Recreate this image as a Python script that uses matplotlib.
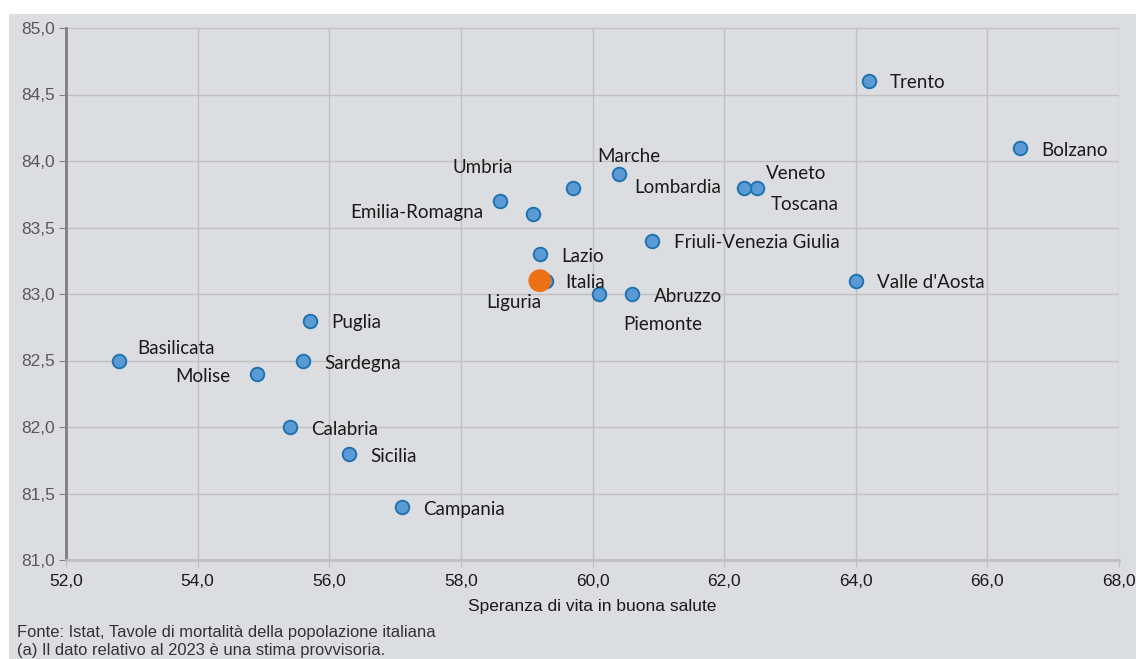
import matplotlib
matplotlib.use("Agg")
import matplotlib.pyplot as plt
from matplotlib.patches import Rectangle
from matplotlib.ticker import FuncFormatter

plt.rcParams["font.family"] = ["Liberation Sans", "DejaVu Sans"]

# ---------------------------------------------------------------- data
regioni = ["Trento", "Bolzano", "Veneto", "Toscana", "Marche", "Lombardia",
           "Umbria", "Emilia-Romagna", "Lazio", "Liguria", "Piemonte",
           "Abruzzo", "Friuli-Venezia Giulia", "Valle d'Aosta", "Puglia",
           "Basilicata", "Sardegna", "Molise", "Calabria", "Sicilia", "Campania"]
salute = [64.2, 66.5, 62.5, 62.3, 60.4, 59.7, 58.6, 59.1, 59.2, 59.3, 60.1,
          60.6, 60.9, 64.0, 55.7, 52.8, 55.6, 54.9, 55.4, 56.3, 57.1]
vita = [84.6, 84.1, 83.8, 83.8, 83.9, 83.8, 83.7, 83.6, 83.3, 83.1, 83.0,
        83.0, 83.4, 83.1, 82.8, 82.5, 82.5, 82.4, 82.0, 81.8, 81.4]
italia_x, italia_y = 59.2, 83.1

# label offsets in pixels (dx, dy, ha)
offsets = {
    "Trento": (21, 0, "left"), "Bolzano": (21, -1, "left"),
    "Veneto": (9, 16, "left"), "Toscana": (27, -15, "left"),
    "Marche": (10, 19, "center"), "Lombardia": (61, 2, "left"),
    "Umbria": (-18, 35, "center"), "Emilia-Romagna": (-50, 3, "right"),
    "Lazio": (21, -1, "left"), "Liguria": (-33, -20, "center"),
    "Piemonte": (64, -29, "center"), "Abruzzo": (22, -1, "left"),
    "Friuli-Venezia Giulia": (22, 0, "left"), "Valle d'Aosta": (21, 0, "left"),
    "Puglia": (22, 0, "left"), "Basilicata": (19, 13, "left"),
    "Sardegna": (21, -1, "left"), "Molise": (-26, -1, "right"),
    "Calabria": (21, -1, "left"), "Sicilia": (21, -1, "left"),
    "Campania": (21, -1, "left"),
}

bg = "#dcdde0"
fig = plt.figure(figsize=(11.36, 6.59), dpi=100)
fig.patches.append(Rectangle((9 / 1136, 0), 1, 1 - 14 / 659, transform=fig.transFigure,
                             facecolor=bg, edgecolor="none", zorder=-10))
ax = fig.add_axes([66 / 1136, 1 - 560 / 659, (1119 - 66) / 1136, (560 - 28) / 659])
ax.set_facecolor(bg)

ax.scatter(salute, vita, s=95, color="#5b9bd5", edgecolor="#1f72b0", linewidth=1.4, zorder=3)
ax.scatter([italia_x], [italia_y], s=270, color="#ed7014", edgecolor="none", zorder=4)

lab_font = ["Lato", "DejaVu Sans"]
for r, x, y in zip(regioni, salute, vita):
    dx, dy, ha = offsets[r]
    ax.annotate(r, (x, y), xytext=(dx, dy), textcoords="offset pixels",
                ha=ha, va="center_baseline", fontsize=13.5, family=lab_font, color="#1a1a1a", zorder=5)
ax.annotate("Italia", (italia_x, italia_y), xytext=(25, 0), textcoords="offset pixels",
            ha="left", va="center_baseline", fontsize=13.5, family=lab_font, color="#1a1a1a", zorder=5)

ax.set_xlim(52, 68)
ax.set_ylim(81, 85)
ax.set_xticks(range(52, 69, 2))
ax.set_yticks([81 + 0.5 * i for i in range(9)])
fmt = FuncFormatter(lambda v, p: f"{v:.1f}".replace(".", ","))
ax.xaxis.set_major_formatter(fmt)
ax.yaxis.set_major_formatter(fmt)
ax.grid(True, color="#c0c0c0", linewidth=1)
ax.set_axisbelow(True)
for s in ["top", "right"]:
    ax.spines[s].set_visible(False)
ax.spines["left"].set_color("#7f7f7f")
ax.spines["left"].set_linewidth(2)
ax.spines["bottom"].set_color("#bfbfbf")
ax.spines["bottom"].set_linewidth(2)
ax.tick_params(axis="y", length=5, color="#7f7f7f", labelcolor="#595959", labelsize=12.5, pad=3)
ax.tick_params(axis="x", length=5, color="#bfbfbf", labelcolor="#1a1a1a", labelsize=12.5, pad=5)

ax.set_xlabel("Speranza di vita in buona salute", fontsize=12.5, color="#1a1a1a", labelpad=7)

fig.text(17 / 1136, 1 - 632 / 659, "Fonte: Istat, Tavole di mortalità della popolazione italiana",
         fontsize=11.9, color="#333333", va="center")
fig.text(17 / 1136, 1 - 650 / 659, "(a) Il dato relativo al 2023 è una stima provvisoria.",
         fontsize=11.9, color="#333333", va="center")

fig.savefig("out.png", dpi=100)
